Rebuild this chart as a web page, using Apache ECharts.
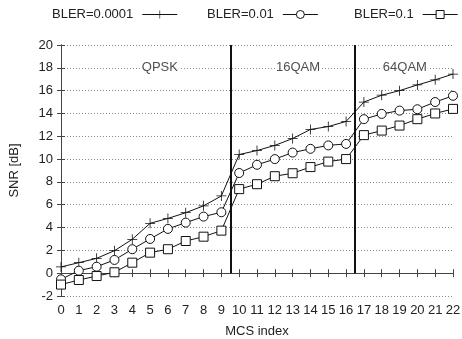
<!DOCTYPE html>
<html><head><meta charset="utf-8">
<script src="https://cdn.jsdelivr.net/npm/echarts@6/dist/echarts.min.js"></script>
<style>html,body{margin:0;padding:0;background:#fff}#c{width:462px;height:339px}</style>
</head><body><div id="c"></div>
<script>
const mcs = [0,1,2,3,4,5,6,7,8,9,10,11,12,13,14,15,16,17,18,19,20,21,22];
const bler0001 = [0.55,0.92,1.3,1.97,2.97,4.37,4.8,5.3,5.9,6.77,10.4,10.75,11.2,11.8,12.6,12.85,13.3,15.0,15.6,16.0,16.5,16.95,17.45];
const bler001 = [-0.54,0.22,0.57,1.16,2.1,3.0,3.88,4.43,4.96,5.34,8.78,9.5,10.0,10.57,10.9,11.2,11.33,13.5,13.96,14.25,14.37,15.0,15.55];
const bler01 = [-1.0,-0.6,-0.25,0.08,0.92,1.8,2.1,2.82,3.2,3.73,7.37,7.8,8.5,8.76,9.3,9.78,10.0,12.1,12.5,12.94,13.5,14.0,14.4];
const seriesNames = ['BLER=0.0001','BLER=0.01','BLER=0.1'];
const boundaries = [9.5, 16.5];
const boundaryRange = [0, 20];
const regionNames = ['QPSK','16QAM','64QAM'];
const regionX = [5.55, 13.3, 19.3];
const regionY = [18, 18, 18];

const font = 'Liberation Sans, Arial, sans-serif';
const txt = '#222';
const plusPath = 'path://M0,4.6H10V5.4H0Z M4.6,0H5.4V10H4.6Z';
const symbols = [plusPath, 'circle', 'rect'];
function mk(name, vals, symbol, size) {
  const plus = symbol === plusPath;
  return {
    name, type: 'line', data: mcs.map((x,i)=>[x, vals[i]]),
    symbol, symbolSize: size, showAllSymbol: true,
    lineStyle: {color:'#111', width:1},
    itemStyle: plus ? {color: '#111', borderWidth: 0} : {color: '#fff', borderColor:'#111', borderWidth: 1},
    z: 3
  };
}
const legendLeft = [47, 202, 349];
const chart = echarts.init(document.getElementById('c'));
chart.setOption({
  animation: false,
  backgroundColor: '#fff',
  textStyle: {fontFamily: font},
  legend: seriesNames.map((n,i)=>({
    data: [n], top: 3, left: legendLeft[i], align: 'right', itemWidth: 35, itemHeight: 10,
    itemStyle: i === 0 ? {color: '#111', borderWidth: 0} : {color: '#fff', borderColor: '#111', borderWidth: 1},
    lineStyle: {width: 1, color: '#111'},
    textStyle: {fontFamily: font, fontSize: 13, color: txt, padding: [0,4,0,0]}
  })),
  grid: {left: 61, right: 9, top: 45, bottom: 43, containLabel: false, outerBoundsMode: 'none'},
  xAxis: [{
    type: 'value', min: 0, max: 22, interval: 1,
    name: 'MCS index', nameLocation: 'middle', nameGap: 29,
    nameTextStyle: {fontFamily: font, fontSize: 13, color: txt},
    axisLine: {lineStyle: {color: '#444', width: 1}},
    axisTick: {inside: true, length: 4, lineStyle: {color: '#444'}},
    axisLabel: {fontFamily: font, fontSize: 13, color: txt, margin: 8},
    splitLine: {show: false}
  },{
    type: 'value', min: 0, max: 22, interval: 1, position: 'top',
    axisLine: {lineStyle: {color: '#444', width: 1}},
    axisTick: {inside: true, length: 4, lineStyle: {color: '#444'}},
    axisLabel: {show: false}, splitLine: {show: false}
  }],
  yAxis: [{
    type: 'value', min: -2, max: 20, interval: 2,
    name: 'SNR [dB]', nameLocation: 'middle', nameGap: 40, nameRotate: 90,
    nameTextStyle: {fontFamily: font, fontSize: 13, color: txt},
    axisLine: {show: true, lineStyle: {color: '#444', width: 1}},
    axisTick: {show: true, inside: true, length: 4, lineStyle: {color: '#444'}},
    axisLabel: {fontFamily: font, fontSize: 13, color: txt, margin: 8},
    splitLine: {show: true, lineStyle: {color: '#888', type: [1,2], width: 1}}
  },{
    type: 'value', min: -2, max: 20, interval: 2, position: 'right',
    axisLine: {show: true, lineStyle: {color: '#444', width: 1}},
    axisTick: {show: true, inside: true, length: 4, lineStyle: {color: '#444'}},
    axisLabel: {show: false}, splitLine: {show: false}
  }],
  series: [
    mk(seriesNames[0], bler0001, symbols[0], 10),
    mk(seriesNames[1], bler001, symbols[1], 9),
    mk(seriesNames[2], bler01, symbols[2], 9),
    {
      type: 'line', data: [], silent: true,
      markLine: {
        symbol: 'none', silent: true, label: {show: false},
        lineStyle: {color: '#111', width: 2, type: 'solid'},
        data: boundaries.map(b => [{coord: [b, boundaryRange[0]]}, {coord: [b, boundaryRange[1]]}])
      }
    },
    {
      type: 'scatter', symbolSize: 0, silent: true, z: 1,
      data: regionNames.map((n,i)=>({value:[regionX[i], regionY[i]], name:n})),
      label: {show: true, position: 'inside', formatter: p => p.name,
        fontFamily: font, fontSize: 13, color: txt, backgroundColor: '#fff', padding: [0,1]}
    }
  ]
});
</script></body></html>
